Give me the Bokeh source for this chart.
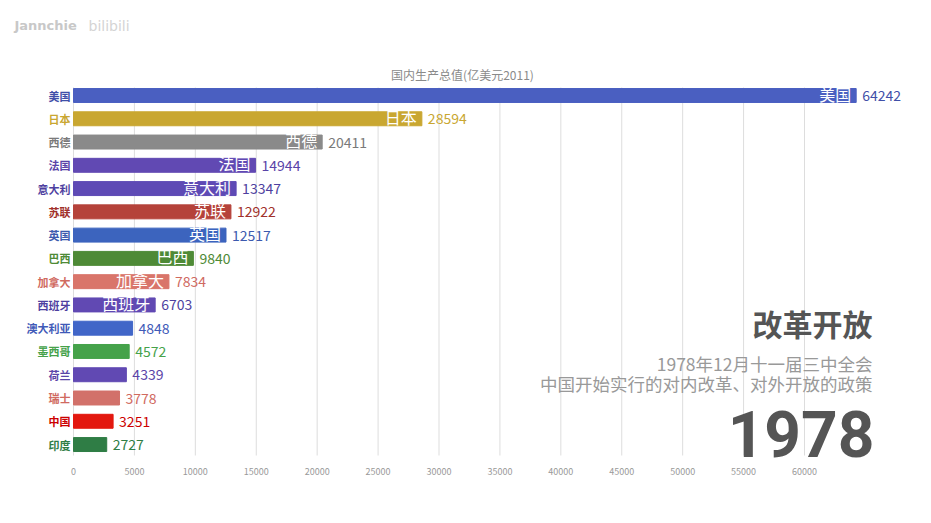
from bokeh.plotting import figure
from bokeh.models import ColumnDataSource, LabelSet, Label, Range1d, FixedTicker
from bokeh.core.properties import value
from bokeh.embed import file_html
from bokeh.resources import INLINE

countries = ["美国", "日本", "西德", "法国", "意大利", "苏联", "英国", "巴西",
             "加拿大", "西班牙", "澳大利亚", "墨西哥", "荷兰", "瑞士", "中国", "印度"]
gdp = [64242, 28594, 20411, 14944, 13347, 12922, 12517, 9840,
       7834, 6703, 4848, 4572, 4339, 3778, 3251, 2727]
colors = ["#4A5FC1", "#C9A731", "#8A8A8A", "#6149B3", "#5E4AB5", "#B5423A", "#3C64BE", "#4E8A36",
          "#D9756A", "#6149B3", "#4166C8", "#45A24A", "#6149B3", "#D2716A", "#E3180F", "#2F7D45"]
label_colors = ["#3F4FA8", "#C9A731", "#7A7A7A", "#5A44A8", "#4E3FA0", "#A0302A", "#3C5AAE", "#4E8A36",
                "#D06A5F", "#4E3FA0", "#3F5AB8", "#45A24A", "#5A44A8", "#D06A5F", "#CC0000", "#2F7D45"]
ticks = [0, 5000, 10000, 15000, 20000, 25000, 30000, 35000, 40000, 45000, 50000, 55000, 60000]
chart_title = "国内生产总值(亿美元2011)"
event_title = "改革开放"
event_line1 = "1978年12月十一届三中全会"
event_line2 = "中国开始实行的对内改革、对外开放的政策"
year = "1978"

FONT = "Noto Sans CJK SC"

ranks = list(range(len(countries)))
src = ColumnDataSource(dict(name=countries, value=gdp, rank=ranks, color=colors,
                            lcolor=label_colors, vtext=[str(v) for v in gdp]))
inner_idx = [i for i, v in enumerate(gdp) if v >= 5000]
inner = ColumnDataSource(dict(name=[countries[i] for i in inner_idx],
                              value=[gdp[i] for i in inner_idx],
                              rank=[ranks[i] for i in inner_idx]))

# layout geometry (px, canvas)
W, H = 915, 507
X0_PX = 73          # pixel of x = 0
PXX = 731 / 60000   # pixels per unit x
ROW0_PX = 95        # pixel of first row centre
PXR = 23.27         # pixels per row
FRAME_BOTTOM = 458
BOTTOM = H - FRAME_BOTTOM


def px2x(px):
    return (px - X0_PX) / PXX


def py2y(py):
    return (py - ROW0_PX) / PXR


p = figure(width=W, height=H, output_backend="svg", toolbar_location=None,
           x_range=Range1d(px2x(0), px2x(W)), y_range=Range1d(py2y(FRAME_BOTTOM), py2y(0)),
           min_border_left=0, min_border_right=0,
           min_border_top=0, min_border_bottom=BOTTOM)
p.outline_line_color = None
p.background_fill_color = "white"
p.border_fill_color = "white"

p.yaxis.visible = False
p.ygrid.grid_line_color = None
p.xgrid.grid_line_color = None
p.segment(x0=ticks, x1=ticks, y0=py2y(87), y1=py2y(455),
          line_color="#dddddd", line_width=1)

p.hbar(y="rank", right="value", left=0, height=0.6, color="color", source=src)

p.xaxis.ticker = FixedTicker(ticks=ticks)
p.xaxis.axis_line_color = None
p.xaxis.major_tick_line_color = None
p.xaxis.minor_tick_line_color = None
p.xaxis.major_label_text_font_size = "9px"
p.xaxis.major_label_text_color = "#999999"
p.xaxis.major_label_text_font = FONT
p.xaxis.major_label_standoff = 3

# category labels on the left
p.add_layout(LabelSet(x=0, y="rank", text="name", source=src, x_offset=-3,
                      text_align="right", text_baseline="middle",
                      text_font=value(FONT), text_font_size="11px", text_font_style="bold",
                      text_color="lcolor"))
# names inside bars
p.add_layout(LabelSet(x="value", y="rank", text="name", source=inner, x_offset=-5, y_offset=2,
                      text_align="right", text_baseline="middle",
                      text_font=value(FONT), text_font_size="16px",
                      text_color="white"))
# values after bars
p.add_layout(LabelSet(x="value", y="rank", text="vtext", source=src, x_offset=6,
                      text_align="left", text_baseline="middle",
                      text_font=value(FONT), text_font_size="14px",
                      text_color="lcolor"))

p.add_layout(Label(x=px2x(462), y=py2y(74), text=chart_title, text_align="center",
                   text_baseline="middle", text_font=FONT, text_font_size="12px",
                   text_color="#8a8a8a"))
p.add_layout(Label(x=px2x(14), y=py2y(25), text="Jannchie", text_align="left",
                   text_baseline="middle", text_font="DejaVu Sans", text_font_size="13px",
                   text_font_style="bold", text_color="#c8c8c8"))
p.add_layout(Label(x=px2x(88), y=py2y(25), text="bilibili", text_align="left",
                   text_baseline="middle", text_font="DejaVu Sans", text_font_size="14px",
                   text_color="#d4d4d4"))

p.add_layout(Label(x=px2x(872), y=py2y(322), text=event_title, text_align="right",
                   text_baseline="middle", text_font=FONT, text_font_size="30px",
                   text_font_style="bold", text_color="#555555"))
p.add_layout(Label(x=px2x(872), y=py2y(363), text=event_line1, text_align="right",
                   text_baseline="middle", text_font=FONT, text_font_size="17.5px",
                   text_color="#999999"))
p.add_layout(Label(x=px2x(872), y=py2y(383), text=event_line2, text_align="right",
                   text_baseline="middle", text_font=FONT, text_font_size="17.5px",
                   text_color="#999999"))
p.add_layout(Label(x=px2x(874), y=py2y(433), text=year, text_align="right",
                   text_baseline="middle", text_font="Roboto",
                   text_font_size="64px", text_font_style="bold", text_color="#555555"))

open("out.html", "w").write(file_html(p, INLINE))
